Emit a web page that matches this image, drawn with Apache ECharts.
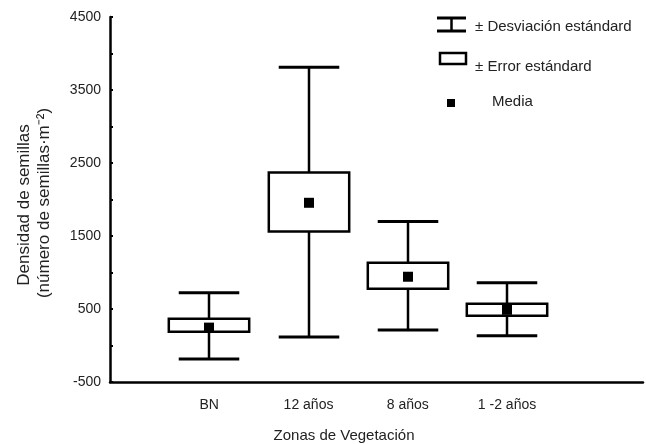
<!DOCTYPE html>
<html>
<head>
<meta charset="utf-8">
<script src="https://cdn.jsdelivr.net/npm/echarts@6/dist/echarts.min.js"></script>
<style>html,body{margin:0;padding:0;background:#fff}#c{width:646px;height:444px}</style>
</head>
<body>
<div id="c"></div>
<script>
var categories = ['BN', '12 años', '8 años', '1 -2 años'];
var meanVals = [245, 1955, 942, 489];
var seLow = [187, 1560, 777, 407];
var seHigh = [365, 2371, 1135, 571];
var sdLow = [-184, 118, 214, 132];
var sdHigh = [723, 3813, 1698, 860];
var yTicks = [-500, 500, 1500, 2500, 3500, 4500];

var FONT = '"Liberation Sans", Arial, Helvetica, sans-serif';
var TXT = '#222';

var data = categories.map(function (c, i) {
  return [i + 1, sdLow[i], seLow[i], meanVals[i], seHigh[i], sdHigh[i]];
});

function renderItem(params, api) {
  var x = api.value(0);
  var pLo = api.coord([x, api.value(1)]);
  var pSeLo = api.coord([x, api.value(2)]);
  var pMean = api.coord([x, api.value(3)]);
  var pSeHi = api.coord([x, api.value(4)]);
  var pHi = api.coord([x, api.value(5)]);
  var boxW = api.size([0.81, 0])[0];
  var capW = api.size([0.61, 0])[0];
  var cx = Math.round(pMean[0]);
  var lineStyle = { stroke: '#000', lineWidth: 2.5 };
  var ms = 10;
  return {
    type: 'group',
    children: [
      { type: 'line', shape: { x1: cx, y1: pHi[1], x2: cx, y2: pLo[1] }, style: lineStyle },
      { type: 'line', shape: { x1: cx - capW / 2, y1: pHi[1], x2: cx + capW / 2, y2: pHi[1] }, style: { stroke: '#000', lineWidth: 3 } },
      { type: 'line', shape: { x1: cx - capW / 2, y1: pLo[1], x2: cx + capW / 2, y2: pLo[1] }, style: { stroke: '#000', lineWidth: 3 } },
      { type: 'rect', shape: { x: cx - boxW / 2, y: pSeHi[1], width: boxW, height: pSeLo[1] - pSeHi[1] }, style: { fill: '#fff', stroke: '#000', lineWidth: 2.5 } },
      { type: 'rect', shape: { x: cx - ms / 2, y: pMean[1] - ms / 2, width: ms, height: ms }, style: { fill: '#000' } }
    ]
  };
}

var chart = echarts.init(document.getElementById('c'), null, { renderer: 'canvas' });
chart.setOption({
  animation: false,
  backgroundColor: '#fff',
  grid: { left: 110, right: 3, top: 17, bottom: 62, containLabel: false },
  xAxis: {
    type: 'value', min: 0, max: 5.37, interval: 1,
    axisLine: { show: true, onZero: false, lineStyle: { color: '#000', width: 2.5 } },
    axisTick: { show: false },
    splitLine: { show: false },
    axisLabel: {
      margin: 16, color: TXT, fontSize: 14, fontFamily: FONT,
      showMinLabel: false, showMaxLabel: false,
      formatter: function (v) { return categories[Math.round(v) - 1] && Math.abs(v - Math.round(v)) < 1e-6 ? categories[Math.round(v) - 1] : ''; }
    }
  },
  yAxis: {
    type: 'value', min: -500, max: 4500, interval: 500,
    axisLine: { show: true, onZero: false, lineStyle: { color: '#000', width: 2.5 } },
    axisTick: { show: true, inside: true, length: 3, lineStyle: { color: '#000', width: 2 } },
    splitLine: { show: false },
    axisLabel: {
      margin: 9, color: TXT, fontSize: 14, fontFamily: FONT,
      formatter: function (v) { return yTicks.indexOf(v) >= 0 ? String(v) : ''; }
    }
  },
  series: [{
    type: 'custom',
    renderItem: renderItem,
    data: data,
    encode: { x: 0, y: [1, 5] },
    clip: false
  }],
  graphic: [
    { type: 'text', x: 24, y: 205, rotation: Math.PI / 2, style: { text: 'Densidad de semillas', fill: TXT, font: '17px ' + FONT, textAlign: 'center', textVerticalAlign: 'middle' } },
    { type: 'text', x: 44, y: 203, rotation: Math.PI / 2, style: { text: '(número de semillas·m⁻²)', fill: TXT, font: '17px ' + FONT, textAlign: 'center', textVerticalAlign: 'middle' } },
    { type: 'text', x: 344, y: 436, style: { text: 'Zonas de Vegetación', fill: TXT, font: '15px ' + FONT, textAlign: 'center', textVerticalAlign: 'middle' } },
    { type: 'line', shape: { x1: 437, y1: 18, x2: 466, y2: 18 }, style: { stroke: '#000', lineWidth: 3 } },
    { type: 'line', shape: { x1: 437, y1: 31, x2: 466, y2: 31 }, style: { stroke: '#000', lineWidth: 3 } },
    { type: 'line', shape: { x1: 451.5, y1: 18, x2: 451.5, y2: 31 }, style: { stroke: '#000', lineWidth: 2.5 } },
    { type: 'text', x: 475, y: 27, style: { text: '± Desviación estándard', fill: TXT, font: '15px ' + FONT, textVerticalAlign: 'middle' } },
    { type: 'rect', shape: { x: 440, y: 53, width: 26, height: 11 }, style: { fill: '#fff', stroke: '#000', lineWidth: 2.5 } },
    { type: 'text', x: 475, y: 67, style: { text: '± Error estándard', fill: TXT, font: '15px ' + FONT, textVerticalAlign: 'middle' } },
    { type: 'rect', shape: { x: 447, y: 99, width: 8, height: 8 }, style: { fill: '#000' } },
    { type: 'text', x: 492, y: 102, style: { text: 'Media', fill: TXT, font: '15px ' + FONT, textVerticalAlign: 'middle' } }
  ]
});
</script>
</body>
</html>
